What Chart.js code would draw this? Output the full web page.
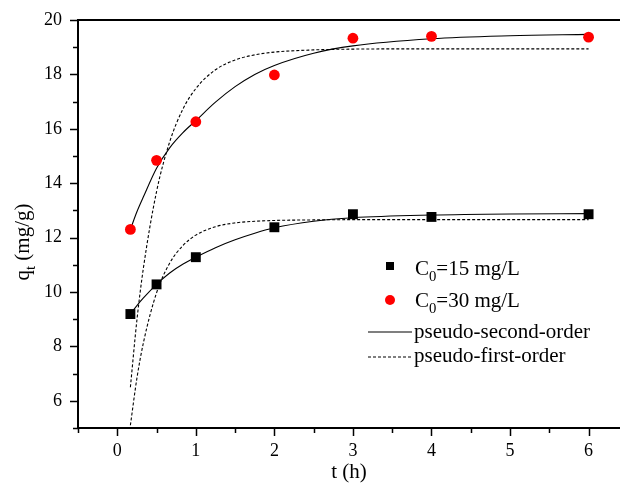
<!DOCTYPE html>
<html lang="en">
<head>
<meta charset="UTF-8">
<title>Adsorption kinetics</title>
<script src="https://cdn.jsdelivr.net/npm/chart.js"></script>
<style>
  body { margin: 0; background: #fff; }
  .wrap { width: 620px; height: 486px; }
  canvas { display: block; }
</style>
</head>
<body>
<div class="wrap"><canvas id="chart" width="620" height="486"></canvas></div>
<script>
// measured points (t in h, q in mg/g)
const tData = [0.167, 0.5, 1, 2, 3, 4, 6];
const q15 = [9.19, 10.28, 11.28, 12.38, 12.86, 12.76, 12.86];
const q30 = [12.3, 14.84, 16.26, 17.98, 19.33, 19.4, 19.37];

// fitted curves
const tFit = [0.167, 0.25, 0.333, 0.5, 0.667, 0.833, 1, 1.25, 1.5, 1.75, 2, 2.5, 3, 4, 5, 6];
const pso15 = [9.19, 9.5, 9.78, 10.28, 10.7, 11.02, 11.28, 11.63, 11.92, 12.16, 12.36, 12.6, 12.73, 12.83, 12.87, 12.88];
const pso30 = [12.3, 12.95, 13.5, 14.55, 15.3, 15.85, 16.3, 16.98, 17.55, 18.0, 18.33, 18.78, 19.05, 19.31, 19.42, 19.47];
const pfo15 = [5.1, 6.83, 8.14, 9.97, 11.06, 11.7, 12.09, 12.4, 12.54, 12.6, 12.63, 12.65, 12.66, 12.66, 12.66, 12.66];
const pfo30 = [6.5, 8.97, 10.89, 13.69, 15.52, 16.71, 17.48, 18.17, 18.53, 18.72, 18.82, 18.9, 18.93, 18.94, 18.94, 18.94];

const xTicks = [-0.5, 0, 0.5, 1, 1.5, 2, 2.5, 3, 3.5, 4, 4.5, 5, 5.5, 6];
const yTicks = [5, 6, 7, 8, 9, 10, 11, 12, 13, 14, 15, 16, 17, 18, 19, 20];

const seriesNames = ['C_0=15 mg/L', 'C_0=30 mg/L', 'pseudo-second-order', 'pseudo-first-order'];
const xTitle = 't (h)';
const yTitle = 'q_t (mg/g)';

const FONT = '"Liberation Serif", "Times New Roman", serif';
const toXY = (xs, ys) => xs.map((x, i) => ({ x: x, y: ys[i] }));

// draws text where "_c" means c is a subscript; returns width
function subText(ctx, str, x, y, size, measureOnly) {
    const parts = str.split(/(_.)/).filter(p => p.length);
    let cx = x;
    parts.forEach(p => {
        const sub = p[0] === '_';
        const txt = sub ? p.slice(1) : p;
        ctx.font = (sub ? size * 0.7 : size) + 'px ' + FONT;
        if (!measureOnly) ctx.fillText(txt, cx, sub ? y + size * 0.27 : y);
        cx += ctx.measureText(txt).width;
    });
    return cx - x;
}

const decor = {
    id: 'decor',
    afterDraw(chart) {
        const ctx = chart.ctx;
        const area = chart.chartArea;
        const xs = chart.scales.x, ys = chart.scales.y;
        ctx.save();
        ctx.strokeStyle = '#000';
        ctx.fillStyle = '#000';

        // top frame line
        ctx.lineWidth = 2;
        ctx.beginPath();
        ctx.moveTo(area.left - 1, area.top);
        ctx.lineTo(area.right, area.top);
        ctx.stroke();

        // tick marks, major and minor
        ctx.lineWidth = 1.5;
        ctx.beginPath();
        xTicks.forEach(v => {
            const px = Math.round(xs.getPixelForValue(v)) + 0.5;
            const len = Number.isInteger(v) ? 8 : 5;
            ctx.moveTo(px, area.bottom);
            ctx.lineTo(px, area.bottom + len);
        });
        yTicks.forEach(v => {
            const py = Math.round(ys.getPixelForValue(v)) + 0.5;
            const len = v % 2 === 0 ? 8 : 5;
            ctx.moveTo(area.left, py);
            ctx.lineTo(area.left - len, py);
        });
        ctx.stroke();

        // axis titles
        ctx.textBaseline = 'alphabetic';
        ctx.textAlign = 'left';
        const tw = subText(ctx, xTitle, 0, 0, 21, true);
        subText(ctx, xTitle, (area.left + area.right) / 2 - tw / 2, 478, 21);
        ctx.save();
        ctx.translate(29, 242);
        ctx.rotate(-Math.PI / 2);
        const yw = subText(ctx, yTitle, 0, 0, 21, true);
        subText(ctx, yTitle, -yw / 2, 0, 21);
        ctx.restore();

        // legend
        ctx.fillStyle = '#000';
        ctx.fillRect(386, 262, 8, 8);
        subText(ctx, seriesNames[0], 415, 275, 21);
        ctx.fillStyle = '#ff0000';
        ctx.beginPath();
        ctx.arc(390, 300, 5, 0, Math.PI * 2);
        ctx.fill();
        ctx.fillStyle = '#000';
        subText(ctx, seriesNames[1], 415, 307, 21);
        ctx.lineWidth = 1.1;
        ctx.beginPath();
        ctx.moveTo(368, 332);
        ctx.lineTo(412, 332);
        ctx.stroke();
        subText(ctx, seriesNames[2], 414, 338, 21);
        ctx.setLineDash([3, 2]);
        ctx.beginPath();
        ctx.moveTo(368, 357);
        ctx.lineTo(412, 357);
        ctx.stroke();
        ctx.setLineDash([]);
        subText(ctx, seriesNames[3], 414, 362, 21);
        ctx.restore();
    }
};

const lineStyle = { showLine: true, pointRadius: 0, borderColor: '#000', borderWidth: 1.1, cubicInterpolationMode: 'monotone', fill: false };

new Chart(document.getElementById('chart'), {
    type: 'scatter',
    data: {
        datasets: [
            { label: seriesNames[0], data: toXY(tData, q15), pointStyle: 'rect', pointRadius: 7, backgroundColor: '#000', borderWidth: 0 },
            { label: seriesNames[1], data: toXY(tData, q30), pointStyle: 'circle', pointRadius: 5.4, backgroundColor: '#ff0000', borderWidth: 0 },
            Object.assign({ label: 'pso15', data: toXY(tFit, pso15) }, lineStyle),
            Object.assign({ label: 'pso30', data: toXY(tFit, pso30) }, lineStyle),
            Object.assign({ label: 'pfo15', data: toXY(tFit, pfo15), borderDash: [3, 2] }, lineStyle),
            Object.assign({ label: 'pfo30', data: toXY(tFit, pfo30), borderDash: [3, 2] }, lineStyle)
        ]
    },
    options: {
        responsive: false,
        devicePixelRatio: 1,
        animation: false,
        events: [],
        layout: { autoPadding: false, padding: { top: 20, left: 0, right: 0, bottom: 0 } },
        plugins: { legend: { display: false }, tooltip: { enabled: false } },
        scales: {
            x: {
                type: 'linear', min: -0.5, max: 6.4,
                afterFit: s => { s.height = 58; s.paddingLeft = 0; s.paddingRight = 0; },
                afterBuildTicks: s => { s.ticks = xTicks.map(v => ({ value: v })); },
                ticks: {
                    autoSkip: false, maxRotation: 0, padding: 12, color: '#000',
                    font: { family: FONT, size: 18 },
                    callback: v => Number.isInteger(v) ? v : ''
                },
                grid: { display: false, drawTicks: false },
                border: { display: true, color: '#000', width: 2 }
            },
            y: {
                min: 5, max: 20,
                afterFit: s => { s.width = 78; s.paddingTop = 0; s.paddingBottom = 0; },
                afterBuildTicks: s => { s.ticks = yTicks.map(v => ({ value: v })); },
                ticks: {
                    autoSkip: false, padding: 16, color: '#000',
                    font: { family: FONT, size: 18 },
                    callback: v => (v % 2 === 0 && v > 5 ? v : '')
                },
                grid: { display: false, drawTicks: false },
                border: { display: true, color: '#000', width: 2 }
            }
        }
    },
    plugins: [decor]
});
</script>
</body>
</html>
